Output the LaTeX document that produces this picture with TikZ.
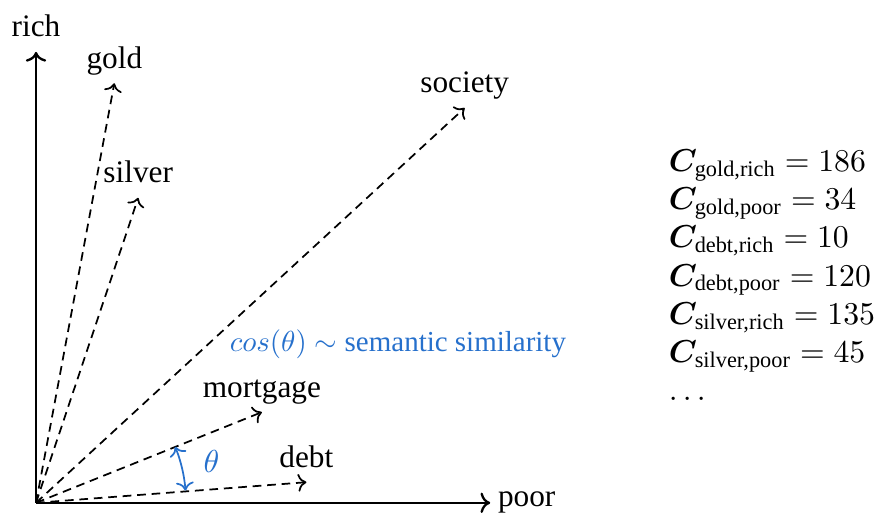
\documentclass[tikz,border=0pt]{standalone}
\usepackage{amsmath,amssymb,bm}
\usepackage{fontspec}
\setmainfont{Liberation Serif}
\usetikzlibrary{positioning,arrows.meta}
\definecolor{simblue}{RGB}{38,112,204}

\begin{document}
\begin{tikzpicture}[
    font=\fontsize{10.8}{13}\selectfont,
    axis/.style={->, thick},
    vec/.style={->, semithick, dash pattern=on 3pt off 2pt},
    word/.style={anchor=south, inner sep=2.5pt, text depth=0.25em},
    angarc/.style={<->, semithick, draw=simblue},
  ]
  \useasboundingbox (-0.437,-0.133) rectangle (10.19,6.10);
  \coordinate (O) at (0,0);

  \node[word] (rich) at (0,5.47) {rich};
  \node[anchor=west, inner sep=2.5pt] (poor) at (5.51,0) {poor};
  \draw[axis] (O) -- (rich.south);
  \draw[axis] (O) -- (poor.west);

  \node[word] (gold)     at (0.95,5.09) {gold};
  \node[word] (silver)   at (1.24,3.70) {silver};
  \node[word] (society)  at (5.20,4.79) {society};
  \node[word] (mortgage) at (2.74,1.10) {mortgage};
  \node[word] (debt)     at (3.28,0.25) {debt};

  \foreach \w in {gold,silver,society,mortgage,debt}
    \draw[vec] (O) -- (\w.south);

  \coordinate (arcstart) at (21.9:1.82);
  \draw[angarc] (arcstart) arc[start angle=21.9, end angle=4.7, radius=1.82];
  \node[text=simblue] (theta) at (2.13,0.50) {$\theta$};
  \node[text=simblue, font=\normalsize] (cosine) at (4.39,1.92)
    {$cos(\theta) \sim$ semantic similarity};

  \node[anchor=west, align=left, inner sep=0pt, font=\fontsize{11}{13.2}\selectfont]
    (counts) at (7.67,2.76)
    {$\bm{C}_{\text{gold,rich}} = 186$\\
     $\bm{C}_{\text{gold,poor}} = 34$\\
     $\bm{C}_{\text{debt,rich}} = 10$\\
     $\bm{C}_{\text{debt,poor}} = 120$\\
     $\bm{C}_{\text{silver,rich}} = 135$\\
     $\bm{C}_{\text{silver,poor}} = 45$\\
     $\dots$};
\end{tikzpicture}
\end{document}
